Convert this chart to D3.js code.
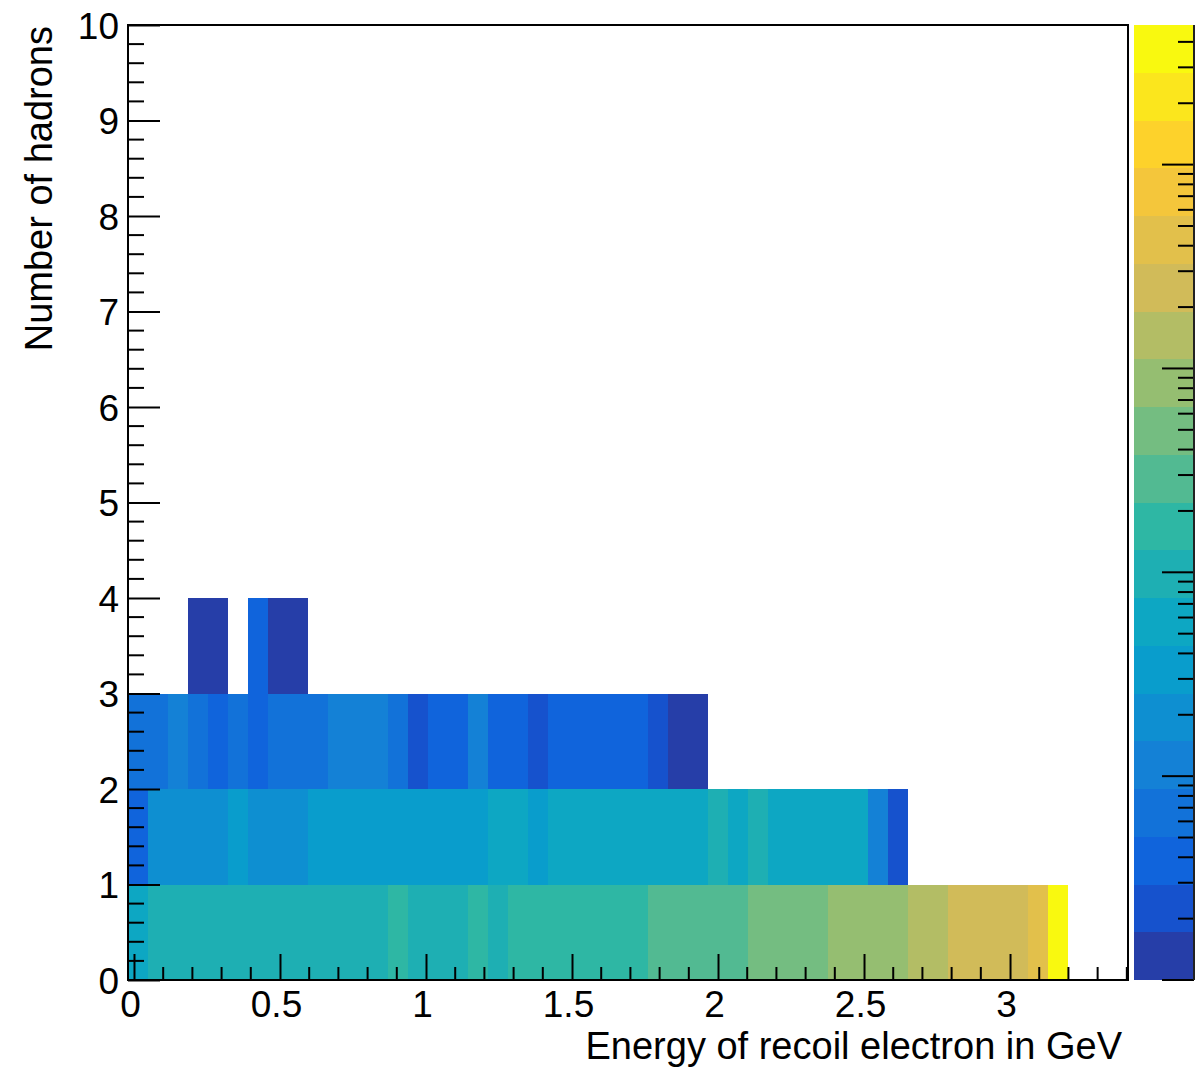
<!DOCTYPE html>
<html>
<head>
<meta charset="utf-8">
<script src="https://cdn.jsdelivr.net/npm/d3@7"></script>
<style>
  html, body { margin: 0; padding: 0; background: #fff; }
  svg text { font-family: "Liberation Sans", Arial, Helvetica, sans-serif; fill: #000; }
</style>
</head>
<body>
<svg id="chart" width="1198" height="1069"></svg>
<script>
// ---------------- data ----------------
const energyRange = [-0.0205, 3.404];      // GeV, histogram x-axis range
const energyBins = 50;                      // number of x bins
const hadronRange = [0, 10];                // y-axis range
const hadronRows = [0, 1, 2, 3];            // y bins (number of hadrons) with entries
const zRange = [1, 48400];                  // colour (log z) range
const nContours = 20;

// bin contents per number-of-hadrons row (50 energy bins each)
const counts0 = [58, 98, 105, 110, 100, 95, 102, 108, 112, 104, 99, 96, 118, 150, 115, 120, 110, 140, 122,
  160, 175, 185, 170, 190, 200, 180, 250, 280, 300, 320, 340, 420, 480, 540, 600, 700, 800, 900, 1000,
  1300, 1600, 2000, 2300, 2700, 3000, 4200, 36000, 0, 0, 0];
const counts1 = [4, 18, 20, 22, 21, 27, 23, 21, 19, 30, 32, 35, 37, 34, 31, 36, 38, 33, 46, 48, 40,
  50, 55, 60, 52, 48, 58, 62, 65, 80, 70, 78, 66, 60, 55, 50, 45, 12, 2, 0, 0, 0, 0, 0, 0, 0, 0, 0, 0, 0];
const counts2 = [7, 6, 10, 7, 4, 6, 4, 8, 7, 6, 10, 11, 9, 6, 2, 4, 3, 9, 4, 4, 2, 4, 3, 4, 3, 4, 2, 1, 1,
  0, 0, 0, 0, 0, 0, 0, 0, 0, 0, 0, 0, 0, 0, 0, 0, 0, 0, 0, 0, 0];
const counts3 = [0, 0, 0, 1, 1, 0, 4, 1, 1, 0, 0, 0, 0, 0, 0, 0, 0, 0, 0, 0, 0, 0, 0, 0, 0, 0, 0, 0, 0,
  0, 0, 0, 0, 0, 0, 0, 0, 0, 0, 0, 0, 0, 0, 0, 0, 0, 0, 0, 0, 0];
const rowCounts = [counts0, counts1, counts2, counts3];

const xTickLabels = ["0", "0.5", "1", "1.5", "2", "2.5", "3"];
const yTickLabels = ["0", "1", "2", "3", "4", "5", "6", "7", "8", "9", "10"];
const xTitle = "Energy of recoil electron in GeV";
const yTitle = "Number of hadrons";

// ---------------- ROOT kBird palette ----------------
const birdStops = [0.0000, 0.1250, 0.2500, 0.3750, 0.5000, 0.6250, 0.7500, 0.8750, 1.0000];
const birdRed   = [0.2082, 0.0592, 0.0780, 0.0232, 0.1802, 0.5301, 0.8186, 0.9956, 0.9764];
const birdGreen = [0.1664, 0.3599, 0.5041, 0.6419, 0.7178, 0.7492, 0.7328, 0.7862, 0.9832];
const birdBlue  = [0.5293, 0.8684, 0.8385, 0.7914, 0.6425, 0.4662, 0.3499, 0.1968, 0.0539];
const nColors = 255;
function birdColor(i) {
  const idx = birdStops.map(s => Math.floor(nColors * s));
  let g = 1;
  while (g < idx.length - 1 && i >= idx[g]) g++;
  const n = idx[g] - idx[g - 1];
  const f = (i - idx[g - 1]) / n;
  const c = a => Math.round(255 * (a[g - 1] + f * (a[g] - a[g - 1])));
  return d3.rgb(c(birdRed), c(birdGreen), c(birdBlue)).formatHex();
}
function contourColor(k) {
  return birdColor(Math.floor((k + 0.99) * nColors / nContours));
}
const lzMin = Math.log10(zRange[0]), lzMax = Math.log10(zRange[1]);
function levelOf(z) {
  return Math.min(nContours - 1, Math.floor(0.01 + (Math.log10(z) - lzMin) * nContours / (lzMax - lzMin)));
}

// ---------------- layout ----------------
const frame = { left: 128, right: 1128, top: 25, bottom: 980 };
const svg = d3.select("#chart");
const x = d3.scaleLinear().domain(energyRange).range([frame.left, frame.right]);
const y = d3.scaleLinear().domain(hadronRange).range([frame.bottom, frame.top]);
const binW = (energyRange[1] - energyRange[0]) / energyBins;

// ---------------- cells ----------------
const cells = [];
rowCounts.forEach((arr, r) => {
  arr.forEach((v, i) => {
    if (v >= zRange[0]) cells.push({ row: hadronRows[r], x0: energyRange[0] + i * binW, x1: energyRange[0] + (i + 1) * binW, v });
  });
});
svg.append("g").selectAll("rect").data(cells).join("rect")
  .attr("x", d => x(d.x0))
  .attr("y", d => y(d.row + 1))
  .attr("width", d => x(d.x1) - x(d.x0))
  .attr("height", d => y(d.row) - y(d.row + 1))
  .attr("fill", d => contourColor(levelOf(d.v)))
  .attr("shape-rendering", "crispEdges");

// ---------------- axes ----------------
const labelFont = 37, titleFont = 38;
// x axis ticks (major every 0.5, minor every 0.1)
const xMajor = xTickLabels.map(Number);
const xMinor = d3.range(0, 35).map(i => i / 10).filter(v => v <= energyRange[1] && !xMajor.some(m => Math.abs(m - v) < 1e-9));
const gx = svg.append("g").attr("transform", `translate(0,${frame.bottom})`);
gx.call(d3.axisBottom(x).tickValues(xMajor).tickSize(-26).tickFormat((d, i) => xTickLabels[i]).tickPadding(0))
  .call(g => g.select(".domain").remove());
gx.selectAll(".tick line").attr("stroke", "#000").attr("stroke-width", 2);
gx.selectAll(".tick text").attr("font-size", labelFont).attr("dy", null).attr("y", 37).attr("x", -4);
gx.append("g").selectAll("line").data(xMinor).join("line")
  .attr("x1", d => x(d)).attr("x2", d => x(d)).attr("y1", 0).attr("y2", -13)
  .attr("stroke", "#000").attr("stroke-width", 2);

// y axis ticks (major every 1, minor every 0.2)
const yMajor = yTickLabels.map(Number);
const yMinor = d3.range(0, 51).map(i => i / 5).filter(v => !yMajor.some(m => Math.abs(m - v) < 1e-9));
const gy = svg.append("g").attr("transform", `translate(${frame.left},0)`);
gy.call(d3.axisLeft(y).tickValues(yMajor).tickSize(-32).tickFormat((d, i) => yTickLabels[i]).tickPadding(0))
  .call(g => g.select(".domain").remove());
gy.selectAll(".tick line").attr("stroke", "#000").attr("stroke-width", 2);
gy.selectAll(".tick text").attr("font-size", labelFont).attr("x", -9).attr("dy", "0.36em");
gy.append("g").selectAll("line").data(yMinor).join("line")
  .attr("y1", d => y(d)).attr("y2", d => y(d)).attr("x1", 0).attr("x2", 16)
  .attr("stroke", "#000").attr("stroke-width", 2);

// frame
svg.append("rect")
  .attr("x", frame.left).attr("y", frame.top)
  .attr("width", frame.right - frame.left).attr("height", frame.bottom - frame.top)
  .attr("fill", "none").attr("stroke", "#000").attr("stroke-width", 2);

// titles
svg.append("text").attr("x", 1122).attr("y", 1059).attr("text-anchor", "end")
  .attr("font-size", titleFont).text(xTitle);
svg.append("text").attr("transform", `translate(52,${frame.top + 1}) rotate(-90)`)
  .attr("text-anchor", "end").attr("font-size", titleFont).text(yTitle);

// ---------------- colour bar ----------------
const bar = { left: 1134, right: 1194 };
const z = d3.scaleLog().domain(zRange).range([frame.bottom, frame.top]);
const bands = d3.range(nContours).map(k => ({
  k,
  lo: Math.pow(10, lzMin + k * (lzMax - lzMin) / nContours),
  hi: Math.pow(10, lzMin + (k + 1) * (lzMax - lzMin) / nContours)
}));
svg.append("g").selectAll("rect").data(bands).join("rect")
  .attr("x", bar.left).attr("width", bar.right - bar.left)
  .attr("y", d => z(d.hi)).attr("height", d => z(d.lo) - z(d.hi))
  .attr("fill", d => contourColor(d.k))
  .attr("shape-rendering", "crispEdges");
const zTicks = [];
for (let e = 0; e <= 4; e++) for (let m = 1; m <= 9; m++) {
  const v = m * Math.pow(10, e);
  if (v <= zRange[1]) zTicks.push({ v, major: m === 1 });
}
const gz = svg.append("g");
gz.selectAll("line").data(zTicks).join("line")
  .attr("x1", bar.right).attr("x2", d => bar.right - (d.major ? 32 : 16))
  .attr("y1", d => z(d.v)).attr("y2", d => z(d.v))
  .attr("stroke", "#000").attr("stroke-width", 2);
gz.append("line").attr("x1", bar.right).attr("x2", bar.right)
  .attr("y1", frame.top).attr("y2", frame.bottom)
  .attr("stroke", "#222").attr("stroke-width", 2);
</script>
</body>
</html>
